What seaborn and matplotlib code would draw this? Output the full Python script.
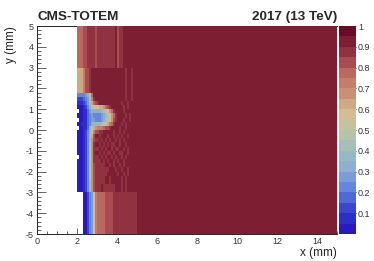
import numpy as np
import pandas as pd
import matplotlib
matplotlib.use('Agg')
import matplotlib.pyplot as plt
from matplotlib.colors import ListedColormap
import seaborn as sns

# efficiency map, bins of 0.1 mm in x (from x = 2) and 0.2 mm in y (from y = 5 down)
N = None
tail = 0.925
band_top = [.76, .76, .76, .81, .81, .87, .87, .87, .87, .83, .87, .87, .87, .87, .87, .89, .89, .89, .87, .90, .83, .87, .87]
band_mid = [.63, .63, .63, .72, .82, .82, .86, .90, .90, .90, .92, .92, .92, .92, .90, .92, .92, .92, .92, .92, .92, .92, .92,
            .92, .86, .92, .92, .86, .92]
rows_mid = [
    [.22, .22, .22, .24, .25, .30, .45, .75, .90, .92, .92, .90, .92, .92, .92, .92, .90, .92, .92, .92, .92, .92, .92, .92, .87, .92, .92, .87],
    [.12, .10, .10, .15, .20, .28, .42, .70, .88, .92, .92, .92, .92, .92, .92, .92, .92, .92, .92, .90, .92, .90, .92, .92, .87, .92, .92, .87],
    [.05, .05, .06, .10, .15, .25, .40, .62, .78, .84, .87, .90, .92, .92, .92, .90, .92, .92, .90, .92, .92, .92, .89, .92, .92, .89, .92],
    [.04, .04, .04, .06, .10, .20, .33, .45, .52, .55, .58, .60, .63, .68, .75, .82, .87, .90, .92, .92, .90, .92, .92, .89, .92, .89, .92],
    [N, .04, .04, .05, .08, .16, .26, .32, .32, .32, .32, .33, .36, .42, .48, .55, .65, .75, .85, .90, .92, .90, .92, .89, .92, .90, .92],
    [.04, .04, .04, .05, .08, .15, .22, .26, .24, .22, .21, .22, .25, .30, .38, .46, .55, .66, .78, .86, .90, .92, .90, .92, .89, .92, .88],
    [N, .03, .04, .05, .08, .15, .22, .26, .25, .23, .22, .23, .26, .32, .40, .48, .57, .68, .80, .87, .90, .90, .92, .88, .92, .92, .89],
    [.04, .04, .05, .06, .08, .15, .24, .33, .35, .36, .37, .38, .42, .47, .53, .60, .70, .78, .86, .90, .92, .92, .89, .92, .88, .92, .92],
    [N, .04, .04, .05, .09, .18, .32, .48, .60, .68, .70, .72, .74, .76, .80, .84, .88, .90, .92, .90, .92, .89, .92, .92, .88, .92, .90],
    [.04, .04, .04, .05, .10, .20, .35, .55, .72, .80, .83, .85, .87, .90, .90, .92, .90, .92, .89, .92, .92, .88, .92, .89, .92, .92],
    [.04, .04, .04, .06, .12, .24, .42, .62, .82, .90, .92, .89, .92, .90, .92, .88, .92, .92, .88, .92, .89, .92, .88, .92, .92, .89],
    [.04, .04, .04, .06, .12, .24, .44, .66, .84, .89, .88, .92, .88, .92, .89, .92, .88, .92, .92, .88, .92, .89, .92, .88, .92, .92],
    [.04, .04, .04, .06, .12, .24, .46, .68, .85, .90, .92, .88, .92, .89, .92, .88, .92, .89, .88, .92, .92, .88, .92, .92, .89, .92],
    [.04, .04, .04, .06, .12, .24, .46, .68, .85, .88, .88, .92, .89, .92, .88, .92, .92, .88, .92, .89, .88, .92, .92, .89, .92, .88],
    [.04, .04, .04, .06, .12, .24, .46, .68, .85, .90, .92, .88, .92, .88, .92, .89, .88, .92, .89, .92, .92, .88, .89, .92, .92, .89],
    [N, .04, .04, .06, .12, .24, .46, .68, .85, .88, .89, .92, .88, .92, .89, .92, .92, .88, .92, .88, .92, .92, .88, .92, .89, .92],
    [.04, .04, .04, .06, .12, .24, .46, .68, .85, .88, .88, .88, .92, .88, .92, .88, .92, .92, .89, .92, .88, .92, .92, .89, .92, .92],
    [.04, .04, .04, .06, .12, .24, .46, .68, .84, .87, .87, .88, .88, .88, .92, .92, .88, .92, .88, .92, .92, .89, .92, .88, .92, .92],
    [.04, .04, .04, .06, .12, .24, .46, .68, .84, .87, .87, .87, .88, .88, .88, .88, .92, .92, .92, .88, .92, .92, .89, .92, .92, .89],
    [.04, .04, .04, .06, .12, .24, .46, .66, .84, .86, .86, .87, .87, .87, .87, .92, .92, .92, .92, .92, .88, .92, .92, .88, .92, .88],
    [.04, .04, .04, .06, .12, .24, .46, .66, .84, .86, .86, .86, .86, .86, .92, .92, .86, .92, .92, .92, .92, .92, .86, .92, .86, .92],
    [.04, .04, .04, .06, .12, .24, .44, .66, .84, .86, .86, .86, .86, .86, .92, .92, .86, .92, .92, .92, .92, .92, .86, .92, .86, .92],
    [.04, .04, .04, .06, .12, .24, .44, .66, .84, .86, .86, .86, .92, .86, .86, .86, .86, .86, .86, .92, .92, .92, .86, .92, .86, .92],
    [.04, .04, .04, .06, .12, .24, .44, .66, .84, .86, .86, .86, .92, .86, .86, .86, .86, .86, .86, .92, .92, .92, .86, .92, .86, .92],
]
band_low = [N, N, N, .03, .03, .10, .20, .25, .55, .72, .77, .77, .77, .77, .80, .80, .80, .80, .87, .87, .87, .89, .87, .87, .87, .87, .89, .87, .87, .87, .92]

palette = ['#2a19be', '#2d2dc8', '#3c46cd', '#5069d7', '#6487dc', '#7d9bd7', '#8cafd2', '#96b9c8',
           '#a5beb9', '#b4c3aa', '#c3c3a0', '#d2be91', '#cdaa82', '#c89173', '#c37d69', '#b9695f',
           '#aa4b50', '#913241', '#7d1e32', '#690a28']

x_ticks = [0, 2, 4, 6, 8, 10, 12, 14]
y_ticks = [-5, -4, -3, -2, -1, 0, 1, 2, 3, 4, 5]
cbar_ticks = [0.1, 0.2, 0.3, 0.4, 0.5, 0.6, 0.7, 0.8, 0.9, 1]

all_rows = [band_top] * 10 + [band_mid] * 6 + rows_mid + [band_low] * 10
grid = []
for r in all_rows:
    grid.append([np.nan] * 20 + [np.nan if v is None else v for v in r] + [tail] * (130 - len(r)))
df = pd.DataFrame(grid, dtype=float)

sns.set_style('ticks')
plt.rcParams['font.family'] = ['Liberation Sans', 'DejaVu Sans']

fig = plt.figure(figsize=(3.74, 2.61), dpi=100)
ax = fig.add_axes([37 / 374, 1 - 234 / 261, 300 / 374, 208 / 261])
cax = fig.add_axes([339 / 374, 1 - 234 / 261, 17 / 374, 208 / 261])

sns.heatmap(df, ax=ax, cbar_ax=cax, cmap=ListedColormap(palette), vmin=0, vmax=1,
            cbar_kws={'ticks': cbar_ticks}, xticklabels=False, yticklabels=False)

# axes in mm: 10 bins per mm in x, 5 bins per mm in y
ax.set_xticks([v * 10 for v in x_ticks])
ax.set_xticklabels([str(v) for v in x_ticks], fontsize=6.5, color='#333333')
ax.set_xticks(np.arange(0, 151, 5), minor=True)
ax.set_yticks([(5 - v) * 5 for v in y_ticks])
ax.set_yticklabels([str(v) for v in y_ticks], fontsize=6.5, rotation=0, color='#333333')
ax.set_yticks(np.arange(0, 51, 1), minor=True)
ax.tick_params(axis='x', which='major', direction='in', length=4.5, width=0.5, pad=2.5, top=False, bottom=True)
ax.tick_params(axis='x', which='minor', direction='in', length=2.2, width=0.5, top=False, bottom=True)
ax.tick_params(axis='y', which='major', direction='in', length=6.5, width=0.5, pad=2.5, left=True, right=False)
ax.tick_params(axis='y', which='minor', direction='in', length=3.2, width=0.5, left=True, right=False)
for s in ['left', 'bottom', 'top']:
    ax.spines[s].set_visible(True)
    ax.spines[s].set_linewidth(0.7)
ax.spines['top'].set_zorder(0.5)
ax.spines['right'].set_visible(False)

cax.tick_params(axis='y', direction='in', length=8, width=0.6, labelsize=6.5, pad=1.5, right=True, left=False, labelcolor='#333333')
cax.set_yticklabels([f'{v:g}' for v in cbar_ticks])
for s in cax.spines.values():
    s.set_visible(False)

fig.text(37 / 374, 1 - 20 / 261, 'CMS-TOTEM', fontsize=9.7, fontweight='bold', ha='left', va='baseline')
fig.text(337 / 374, 1 - 20 / 261, '2017 (13 TeV)', fontsize=9.7, fontweight='bold', ha='right', va='baseline')
fig.text(337 / 374, 1 - 256 / 261, 'x (mm)', fontsize=8.5, ha='right', va='baseline', color='#222222')
fig.text(11 / 374, 1 - 26 / 261, 'y (mm)', fontsize=8.5, rotation=90, ha='center', va='top', color='#222222')

fig.savefig('out.png', dpi=100)
